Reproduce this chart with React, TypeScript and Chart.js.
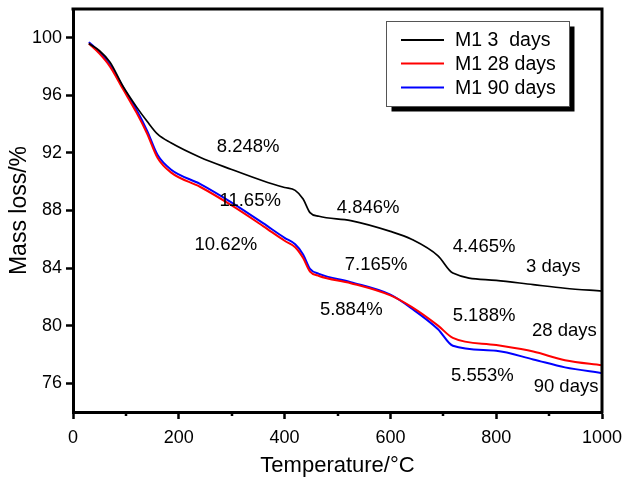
import { useEffect, useRef } from 'react';
import { Chart, registerables } from 'chart.js';

Chart.register(...registerables);

const temperatures = [30, 50, 70, 95, 120, 140, 160, 185, 240, 300, 360, 400, 420, 435, 448, 465, 525, 600, 640, 690, 718, 800, 870, 930, 1000];
const mass3days = [99.6, 99.1, 98.3, 96.6, 95.2, 94.2, 93.3, 92.7, 91.7, 90.85, 90.05, 89.6, 89.4, 88.8, 87.85, 87.6, 87.3, 86.55, 86.0, 84.85, 83.65, 83.15, 82.85, 82.6, 82.4];
const mass28days = [99.6, 98.9, 98.0, 96.4, 94.8, 93.35, 91.65, 90.65, 89.65, 88.35, 86.9, 85.9, 85.45, 84.7, 83.76, 83.45, 82.95, 82.1, 81.3, 80.0, 79.15, 78.65, 78.2, 77.6, 77.25];
const mass90days = [99.7, 99.0, 98.1, 96.55, 95.0, 93.55, 91.85, 90.85, 89.85, 88.55, 87.1, 86.1, 85.65, 84.95, 83.95, 83.6, 83.02, 82.15, 81.2, 79.75, 78.6, 78.25, 77.65, 77.1, 76.7];

const seriesNames = ['M1 3  days', 'M1 28 days', 'M1 90 days'];
const seriesColors = ['#000000', '#ff0000', '#0000ff'];

const xTicks = [0, 200, 400, 600, 800, 1000];
const xMinorTicks = [100, 300, 500, 700, 900];
const yTicks = [76, 80, 84, 88, 92, 96, 100];

const annotationTexts = ['8.248%', '11.65%', '10.62%', '4.846%', '7.165%', '5.884%', '4.465%', '3 days', '5.188%', '28 days', '5.553%', '90 days'];
const annotationX = [331, 335, 289, 558, 573, 526, 777, 908, 777, 929, 774, 932];
const annotationY = [92.4, 88.7, 85.6, 88.2, 84.2, 81.1, 85.5, 84.1, 80.7, 79.6, 76.5, 75.75];

const FONT = '"Liberation Sans", Arial, sans-serif';

const decorPlugin = {
  id: 'decor',
  afterDraw(chart: any) {
    const { ctx, chartArea, scales } = chart;
    const xs = scales.x;
    const ys = scales.y;
    ctx.save();
    ctx.strokeStyle = '#000';
    ctx.lineWidth = 3;
    ctx.lineCap = 'square';
    ctx.beginPath();
    ctx.moveTo(chartArea.left, chartArea.top);
    ctx.lineTo(chartArea.right, chartArea.top);
    ctx.lineTo(chartArea.right, chartArea.bottom);
    ctx.stroke();
    ctx.lineCap = 'butt';
    ctx.lineWidth = 2.5;
    ctx.beginPath();
    xMinorTicks.forEach((v) => {
      const px = Math.round(xs.getPixelForValue(v));
      ctx.moveTo(px, chartArea.bottom);
      ctx.lineTo(px, chartArea.bottom + 4);
    });
    ctx.stroke();
    ctx.fillStyle = '#000';
    ctx.font = `18.5px ${FONT}`;
    ctx.textAlign = 'center';
    ctx.textBaseline = 'middle';
    annotationTexts.forEach((t, i) => {
      ctx.fillText(t, xs.getPixelForValue(annotationX[i]), ys.getPixelForValue(annotationY[i]));
    });
    const bx = 386, by = 21, bw = 183, bh = 85, sh = 5.5;
    ctx.fillStyle = '#000';
    ctx.fillRect(bx + sh, by + sh, bw, bh);
    ctx.fillStyle = '#fff';
    ctx.fillRect(bx, by, bw, bh);
    ctx.strokeStyle = '#555';
    ctx.lineWidth = 1;
    ctx.strokeRect(bx + 0.5, by + 0.5, bw, bh);
    ctx.font = `19.5px ${FONT}`;
    ctx.textAlign = 'left';
    ctx.textBaseline = 'middle';
    const rows = [40, 63.5, 87.5];
    seriesNames.forEach((name, i) => {
      ctx.strokeStyle = seriesColors[i];
      ctx.lineWidth = 2;
      ctx.beginPath();
      ctx.moveTo(401, rows[i]);
      ctx.lineTo(444, rows[i]);
      ctx.stroke();
      ctx.fillStyle = '#000';
      ctx.fillText(name, 455, rows[i] + 1);
    });
    ctx.restore();
  },
};

export default function App() {
  const canvasRef = useRef<HTMLCanvasElement | null>(null);

  useEffect(() => {
    const canvas = canvasRef.current;
    if (!canvas) return;
    const seriesValues = [mass3days, mass28days, mass90days];
    const chart = new Chart(canvas, {
      type: 'line',
      data: {
        datasets: seriesValues.map((vals, i) => ({
          label: seriesNames[i],
          data: temperatures.map((t, j) => ({ x: t, y: vals[j] })),
          borderColor: seriesColors[i],
          borderWidth: i === 0 ? 1.7 : 2,
          pointRadius: 0,
          fill: false,
          cubicInterpolationMode: 'monotone' as const,
        })),
      },
      options: {
        responsive: false,
        animation: false,
        devicePixelRatio: 1,
        layout: { padding: { top: 9, right: 25, left: 0, bottom: 0 } },
        plugins: { legend: { display: false }, tooltip: { enabled: false } },
        scales: {
          x: {
            type: 'linear',
            min: 0,
            max: 1000,
            afterBuildTicks: (s: any) => {
              s.ticks = xTicks.map((v) => ({ value: v }));
            },
            afterFit: (s: any) => {
              s.height = 67;
              s.paddingLeft = 0;
              s.paddingRight = 0;
            },
            ticks: {
              color: '#000',
              font: { family: FONT, size: 18, lineHeight: 1 },
              padding: 10,
              maxRotation: 0,
              autoSkip: false,
              callback: (v: any) => String(v),
            },
            grid: { display: true, drawOnChartArea: false, drawTicks: true, tickLength: 7, tickWidth: 2.5, tickColor: '#000' },
            border: { display: true, width: 3, color: '#000' },
            title: {
              display: true,
              text: 'Temperature/°C',
              color: '#000',
              font: { family: FONT, size: 22, lineHeight: 1.2 },
              padding: { top: 0, bottom: 0 },
            },
          },
          y: {
            type: 'linear',
            min: 74,
            max: 102,
            afterBuildTicks: (s: any) => {
              s.ticks = yTicks.map((v) => ({ value: v }));
            },
            afterFit: (s: any) => {
              s.width = 73;
              s.paddingTop = 0;
              s.paddingBottom = 0;
            },
            ticks: {
              color: '#000',
              font: { family: FONT, size: 18, lineHeight: 1 },
              padding: 4,
              autoSkip: false,
              callback: (v: any) => String(v),
            },
            grid: { display: true, drawOnChartArea: false, drawTicks: true, tickLength: 7, tickWidth: 2.5, tickColor: '#000' },
            border: { display: true, width: 3, color: '#000' },
            title: {
              display: true,
              text: 'Mass loss/%',
              color: '#000',
              font: { family: FONT, size: 23, lineHeight: 1.2 },
              padding: { top: 6, bottom: 0 },
            },
          },
        },
      },
      plugins: [decorPlugin],
    });
    return () => chart.destroy();
  }, []);

  return (
    <div style={{ position: 'fixed', left: 0, top: 0, width: 627, height: 479, background: '#fff' }}>
      <canvas ref={canvasRef} width={627} height={479} style={{ display: 'block' }} />
    </div>
  );
}
